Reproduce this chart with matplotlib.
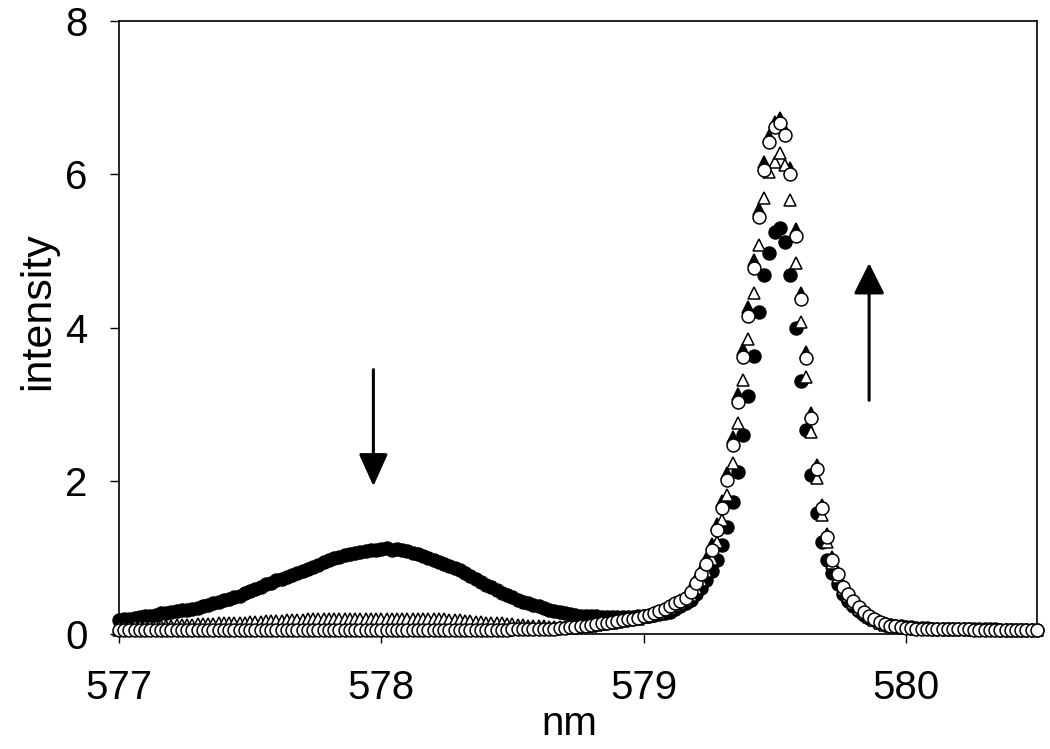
import numpy as np
import matplotlib
matplotlib.use("Agg")
import matplotlib.pyplot as plt

plt.rcParams['font.family'] = ['Liberation Sans', 'DejaVu Sans']

# wavelength grid (nm), 0.02 nm sampling from 577.00 to 580.50
wl_start, wl_stop, n_pts = 577.0, 580.5, 176
wavelength = np.linspace(wl_start, wl_stop, n_pts)

filled_circles = [
    0.18, 0.19, 0.20, 0.21, 0.22, 0.23, 0.24, 0.25, 0.27,
    0.28, 0.29, 0.30, 0.31, 0.32, 0.33, 0.34, 0.36, 0.38,
    0.40, 0.42, 0.44, 0.46, 0.48, 0.50, 0.53,
    0.56, 0.59, 0.62, 0.65, 0.67, 0.70,
    0.72, 0.75, 0.77, 0.80, 0.82, 0.85, 0.87,
    0.90, 0.94, 0.97, 0.99, 1.01, 1.03,
    1.04, 1.06, 1.07, 1.08, 1.10, 1.09, 1.11,
    1.12, 1.10, 1.11, 1.09,
    1.08, 1.06, 1.04, 1.02, 0.99,
    0.97, 0.94, 0.92, 0.89, 0.86, 0.83, 0.80,
    0.76, 0.72, 0.68, 0.64, 0.61, 0.57,
    0.54, 0.51, 0.48, 0.45, 0.42, 0.40, 0.38,
    0.36, 0.34, 0.32, 0.30, 0.29, 0.27,
    0.26, 0.25, 0.24, 0.24, 0.23, 0.23, 0.22,
    0.22, 0.22, 0.22, 0.22, 0.22, 0.22,
    0.23, 0.23, 0.24, 0.25, 0.26, 0.27, 0.29,
    0.33, 0.37, 0.41,
    0.45, 0.52, 0.60, 0.70, 0.82, 0.97,
    1.16, 1.40, 1.72, 2.11, 2.60,
    3.10, 3.63, 4.20, 4.69, 4.97, 5.24, 5.30,
    5.12, 4.69, 3.99, 3.30, 2.66, 2.08, 1.58, 1.20,
    0.97, 0.80, 0.65, 0.52, 0.43, 0.36, 0.30, 0.25, 0.21, 0.18, 0.15,
    0.13, 0.12, 0.11, 0.10, 0.09, 0.09, 0.08, 0.08, 0.08, 0.07,
    0.07, 0.07, 0.07, 0.07, 0.06, 0.06, 0.06, 0.06, 0.06, 0.06,
    0.06, 0.06, 0.05, 0.05, 0.05, 0.05, 0.05, 0.05, 0.05, 0.05,
]

open_circles = [
    0.05, 0.05, 0.05, 0.05, 0.05, 0.05, 0.05, 0.05, 0.05, 0.05,
    0.05, 0.05, 0.05, 0.05, 0.05, 0.05, 0.05, 0.05, 0.05, 0.05,
    0.05, 0.05, 0.05, 0.05, 0.05, 0.05, 0.05, 0.05, 0.05, 0.05,
    0.05, 0.05, 0.05, 0.05, 0.05, 0.05, 0.05, 0.05, 0.05, 0.05,
    0.05, 0.05, 0.05, 0.05, 0.05, 0.05, 0.05, 0.05, 0.05, 0.05,
    0.05, 0.05, 0.05, 0.05, 0.05, 0.05, 0.05, 0.05, 0.05, 0.05,
    0.05, 0.05, 0.05, 0.05, 0.05, 0.05, 0.05, 0.05, 0.05, 0.05,
    0.05, 0.05, 0.05, 0.05, 0.05, 0.06, 0.06, 0.06, 0.06, 0.06,
    0.06, 0.06, 0.07, 0.07, 0.08, 0.08, 0.09, 0.09, 0.10, 0.11,
    0.12, 0.13, 0.14, 0.15, 0.16, 0.17, 0.18, 0.19, 0.20, 0.21,
    0.23, 0.25, 0.27, 0.30, 0.33, 0.36, 0.40, 0.43, 0.47,
    0.55, 0.67, 0.78, 0.91, 1.10, 1.36,
    1.64, 2.01, 2.47, 3.03, 3.62, 4.15, 4.78, 5.44, 6.06, 6.42, 6.62, 6.67,
    6.51, 6.00, 5.20, 4.37, 3.60, 2.82, 2.15, 1.64,
    1.27, 0.97, 0.78, 0.62, 0.52, 0.43, 0.35, 0.29, 0.24, 0.19, 0.16,
    0.13, 0.11, 0.10, 0.09, 0.08,
    0.08, 0.07, 0.07, 0.07, 0.07, 0.06, 0.06, 0.06, 0.06, 0.06,
    0.06, 0.06, 0.05, 0.05, 0.05, 0.05, 0.05, 0.05, 0.05, 0.05,
    0.05, 0.05, 0.05, 0.05, 0.05,
]

open_triangles = [
    0.09, 0.09, 0.09, 0.10, 0.10, 0.10, 0.10, 0.11, 0.11, 0.11,
    0.11, 0.12, 0.12, 0.12, 0.12, 0.13, 0.13, 0.13, 0.13, 0.14,
    0.14, 0.14, 0.15, 0.15, 0.15, 0.16, 0.16, 0.16, 0.17, 0.17,
    0.17, 0.17, 0.18, 0.18, 0.18, 0.18, 0.19, 0.19, 0.19, 0.19,
    0.19, 0.20, 0.20, 0.20, 0.20, 0.20, 0.20, 0.20, 0.20, 0.20,
    0.20, 0.20, 0.20, 0.20, 0.20, 0.20, 0.20, 0.20, 0.19, 0.19,
    0.19, 0.19, 0.19, 0.18, 0.18, 0.18, 0.17, 0.17, 0.16, 0.16,
    0.15, 0.15, 0.14, 0.14, 0.13, 0.13, 0.12, 0.12, 0.11, 0.11,
    0.10, 0.10, 0.09, 0.09, 0.09, 0.09, 0.09, 0.09, 0.10, 0.10,
    0.11, 0.12, 0.13, 0.14, 0.15, 0.16, 0.17, 0.18, 0.19, 0.20,
    0.22, 0.24, 0.26, 0.28, 0.31, 0.34, 0.38, 0.41, 0.44,
    0.51, 0.60, 0.70, 0.82, 0.98, 1.20,
    1.49, 1.81, 2.23, 2.75, 3.32, 3.85, 4.45, 5.08, 5.69, 6.03, 6.16, 6.28,
    6.12, 5.67, 4.84, 4.07, 3.36, 2.64, 2.04, 1.55,
    1.20, 0.93, 0.74, 0.59, 0.49, 0.41, 0.33, 0.27, 0.22, 0.18, 0.15,
    0.12, 0.11, 0.10, 0.09, 0.08, 0.08, 0.07, 0.07, 0.07, 0.07,
    0.06, 0.06, 0.06, 0.06, 0.06, 0.06, 0.06, 0.05, 0.05, 0.05,
    0.05, 0.05, 0.05, 0.05, 0.05, 0.05, 0.05, 0.05, 0.05, 0.05,
]

filled_triangles = [
    0.05, 0.05, 0.05, 0.05, 0.05, 0.05, 0.05, 0.05, 0.05, 0.05,
    0.05, 0.05, 0.05, 0.05, 0.05, 0.05, 0.05, 0.05, 0.05, 0.05,
    0.05, 0.05, 0.05, 0.05, 0.05, 0.05, 0.05, 0.05, 0.05, 0.05,
    0.05, 0.05, 0.05, 0.05, 0.05, 0.05, 0.05, 0.05, 0.05, 0.05,
    0.05, 0.05, 0.05, 0.05, 0.05, 0.05, 0.05, 0.05, 0.05, 0.05,
    0.05, 0.05, 0.05, 0.05, 0.05, 0.05, 0.05, 0.05, 0.05, 0.05,
    0.05, 0.05, 0.05, 0.05, 0.05, 0.05, 0.05, 0.05, 0.05, 0.05,
    0.05, 0.05, 0.05, 0.05, 0.05, 0.06, 0.06, 0.06, 0.06, 0.06,
    0.06, 0.06, 0.07, 0.07, 0.08, 0.08, 0.09, 0.09, 0.10, 0.11,
    0.12, 0.13, 0.14, 0.15, 0.16, 0.17, 0.18, 0.19, 0.20, 0.21,
    0.23, 0.25, 0.27, 0.30, 0.33, 0.37, 0.41, 0.45, 0.50,
    0.60, 0.72, 0.84, 0.98, 1.18, 1.44,
    1.73, 2.10, 2.57, 3.13, 3.72, 4.27, 4.88, 5.55, 6.16, 6.50, 6.68, 6.74,
    6.58, 6.08, 5.29, 4.45, 3.68, 2.89, 2.21, 1.69,
    1.31, 1.00, 0.81, 0.64, 0.53, 0.44, 0.36, 0.30, 0.25, 0.20, 0.17,
    0.14, 0.12, 0.10, 0.09, 0.08,
    0.08, 0.07, 0.07, 0.07, 0.07, 0.06, 0.06, 0.06, 0.06, 0.06,
    0.06, 0.06, 0.05, 0.05, 0.05, 0.05, 0.05, 0.05, 0.05, 0.05,
    0.05, 0.05, 0.05, 0.05, 0.05,
]

x_ticks = [577, 578, 579, 580]
y_ticks = [0, 2, 4, 6, 8]

fig = plt.figure(figsize=(10.5, 7.49), dpi=100)
ax = fig.add_axes([0.1133, 0.1535, 0.8743, 0.8185])

ms = 9.3
mew = 1.1
ax.plot(wavelength, filled_triangles, linestyle='none', marker='^', ms=ms,
        mfc='black', mec='black', mew=mew, zorder=2, clip_on=False)
ax.plot(wavelength, filled_circles, linestyle='none', marker='o', ms=ms,
        mfc='black', mec='black', mew=mew, zorder=3, clip_on=False)
ax.plot(wavelength, open_triangles, linestyle='none', marker='^', ms=ms,
        mfc='white', mec='black', mew=mew, zorder=4, clip_on=False)
ax.plot(wavelength, open_circles, linestyle='none', marker='o', ms=ms,
        mfc='white', mec='black', mew=mew, zorder=5, clip_on=False)

# arrows
ax.annotate('', xy=(577.97, 1.93), xytext=(577.97, 3.45),
            arrowprops=dict(arrowstyle='-|>,head_length=2.0,head_width=0.9',
                            mutation_scale=10, lw=2.2, color='black',
                            shrinkA=0, shrinkB=0))
ax.annotate('', xy=(579.86, 4.84), xytext=(579.86, 3.05),
            arrowprops=dict(arrowstyle='-|>,head_length=1.9,head_width=0.95',
                            mutation_scale=10, lw=2.2, color='black',
                            shrinkA=0, shrinkB=0))

ax.set_xlim(577, 580.5)
ax.set_ylim(0, 8)
ax.set_xticks(x_ticks)
ax.set_yticks(y_ticks)
ax.set_xticklabels([str(t) for t in x_ticks])
ax.set_yticklabels([str(t) for t in y_ticks])

for s in ax.spines.values():
    s.set_linewidth(1.2)
    s.set_color('black')

ax.tick_params(axis='both', direction='out', length=6.5, width=1.0,
               labelsize=29, colors='black')
ax.tick_params(axis='x', pad=19)
ax.tick_params(axis='y', pad=16)

ax.set_xlabel('nm', fontsize=29, labelpad=-2, x=0.491)
ax.set_ylabel('intensity', fontsize=31, labelpad=5, y=0.527)

fig.savefig('out.png', dpi=100, facecolor='white')
